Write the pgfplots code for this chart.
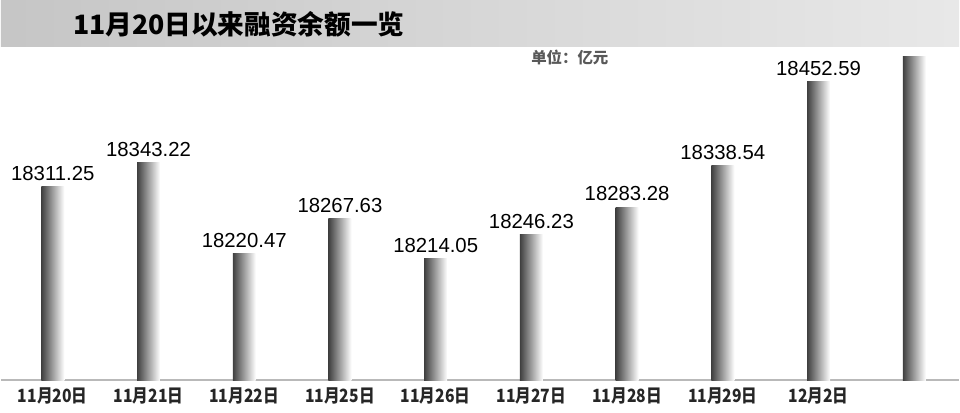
\documentclass[border=0pt]{standalone}
\usepackage{fontspec}
\setmainfont{Liberation Sans}
\newfontfamily\cjk{Noto Sans CJK SC}
\usepackage{graphicx}
\usepackage{pgfplots}
\pgfplotsset{compat=1.18}

\newcommand\tl[1]{\scalebox{0.86}[1]{#1}}

\pgfplotsset{
    gbar/.style={ybar, bar width=0.575cm, bar shift=0pt, draw=none,
        left color=black!75, middle color=black!70, right color=white},
    vlabel/.style={gbar, nodes near coords,
        nodes near coords style={font=\fontsize{14.5}{16}\selectfont, anchor=south, inner sep=0pt, yshift=4pt,
            /pgf/number format/.cd, fixed, fixed zerofill, precision=2, 1000 sep={}, assume math mode=true}},
}

\begin{document}
\begin{tikzpicture}
% page: 24cm x 10.325cm (960x413 px, 1 px = 0.025cm)
\path (0,-0.8) rectangle (24,9.525);
\shade[left color=gray!45, right color=gray!18] (0,8.35) rectangle (24,9.525);
\node[font=\cjk\bfseries\fontsize{19}{22}\selectfont, anchor=west, inner sep=0pt] at (1.8,8.925) {11月20日以来融资余额一览};
\node[font=\cjk\bfseries\fontsize{11}{13}\selectfont, text=black!65, inner sep=0pt] at (14.25,8.075) {单位：亿元};

\begin{axis}[
    at={(0,0)}, anchor=south west,
    scale only axis,
    width=24cm, height=9.525cm,
    xmin=-0.542, xmax=9.468,
    ymin=18050, ymax=18562,
    axis y line=none,
    axis x line*=bottom,
    x axis line style={-, draw=gray!55, line width=1.3pt},
    xtick={0,...,8},
    xticklabels={\tl{11月20日},\tl{11月21日},\tl{11月22日},\tl{11月25日},\tl{11月26日},\tl{11月27日},\tl{11月28日},\tl{11月29日},\tl{12月2日}},
    /pgf/number format/assume math mode=true,
    major tick length=0pt,
    xticklabel style={font=\cjk\bfseries\fontsize{13}{14}\selectfont, text=black!85, inner sep=0pt, yshift=-0.18cm},
    clip=false,
]
% one plot per bar so each bar gets its own shading
\addplot[vlabel] coordinates {(0,18311.25)};
\addplot[vlabel] coordinates {(1,18343.22)};
\addplot[vlabel] coordinates {(2,18220.47)};
\addplot[vlabel] coordinates {(3,18267.63)};
\addplot[vlabel] coordinates {(4,18214.05)};
\addplot[vlabel] coordinates {(5,18246.23)};
\addplot[vlabel] coordinates {(6,18283.28)};
\addplot[vlabel] coordinates {(7,18338.54)};
\addplot[vlabel] coordinates {(8,18452.59)};
\addplot[gbar] coordinates {(9,18486)};
\end{axis}
\end{tikzpicture}
\end{document}
